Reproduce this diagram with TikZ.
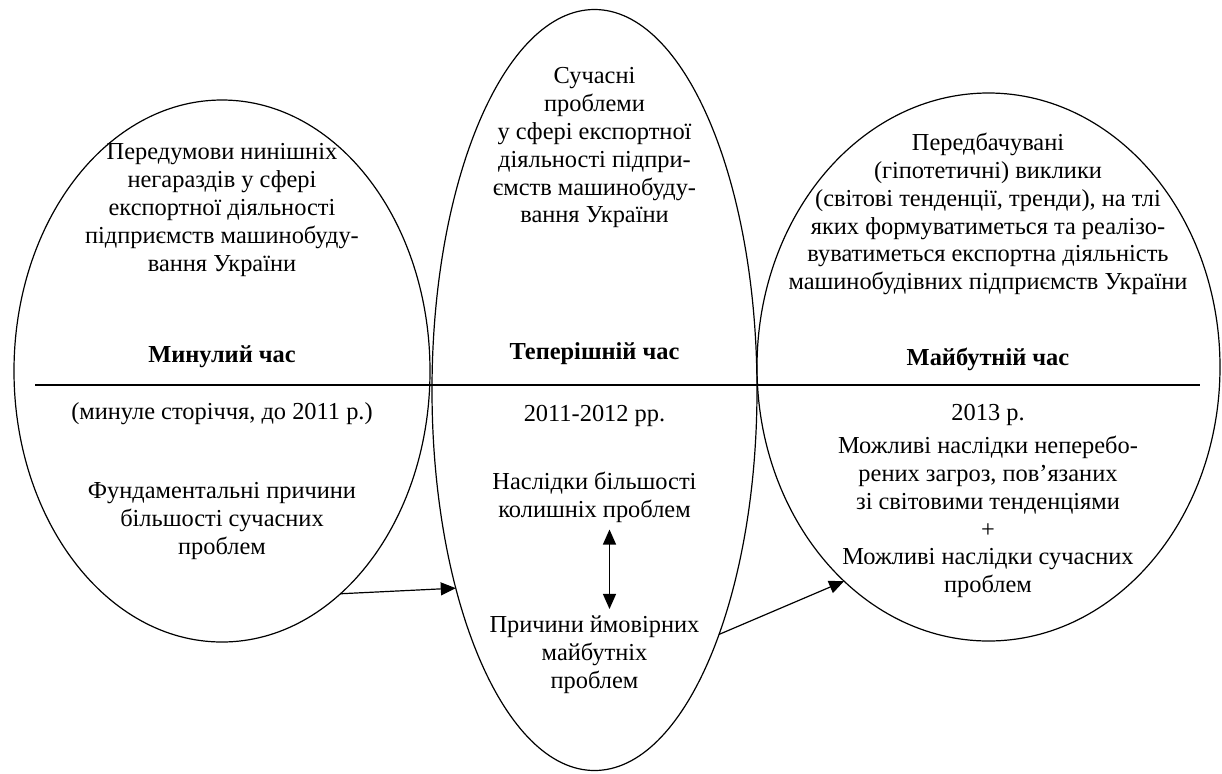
\documentclass[tikz,border=0pt]{standalone}
\usepackage{fontspec}
\setmainfont{Liberation Serif}
\usetikzlibrary{arrows.meta,shapes.geometric,positioning}

\begin{document}
\begin{tikzpicture}[x=0.5pt,y=-0.5pt,line width=0.6pt,
  >={Triangle[length=7.5pt,width=6.5pt]},
  period/.style={ellipse,draw,inner sep=0pt,outer sep=0pt},
  txt/.style={align=center,font=\fontsize{12.2}{13.9}\selectfont},
  tense/.style={txt,font=\fontsize{12.2}{13.9}\selectfont\bfseries}]
\useasboundingbox (0,0) rectangle (1222,773);
% the three periods
\node[period,minimum width=208pt,minimum height=271pt] (past) at (222,371) {};
\node[period,minimum width=162.5pt,minimum height=380.5pt] (present) at (594.5,390) {};
\node[period,minimum width=231.5pt,minimum height=274pt] (future) at (988.5,367) {};
% time axis
\coordinate (axisL) at (35,385);
\coordinate (axisR) at (1200,385);
\draw (axisL) -- (axisR);
% past
\node[txt] (pastpre) at (222,210) {Передумови нинішніх\\негараздів у сфері\\експортної діяльності\\підприємств машинобуду-\\вання України};
\node[tense] (pastname) at (222,357) {Минулий час};
\node[txt] (pastyears) at (222,414) {(минуле сторіччя, до 2011 р.)};
\node[txt] (pastcause) at (222,521) {Фундаментальні причини\\більшості сучасних\\проблем};
% present
\node[txt] (prespre) at (594.5,148) {Сучасні\\проблеми\\у сфері експортної\\діяльності підпри-\\ємств машинобуду-\\вання України};
\node[tense] (presname) at (594.5,354) {Теперішній час};
\node[txt] (presyears) at (594.5,416) {2011-2012 рр.};
\node[txt] (conseq) at (594.5,497) {Наслідки більшості\\колишніх проблем};
\node[txt] (causes) at (594.5,655) {Причини ймовірних\\майбутніх\\проблем};
% future
\node[txt] (futpre) at (988,214) {Передбачувані\\(гіпотетичні) виклики\\(світові тенденції, тренди), на тлі\\яких формуватиметься та реалізо-\\вуватиметься експортна діяльність\\машинобудівних підприємств України};
\node[tense] (futname) at (988,359) {Майбутній час};
\node[txt] (futyears) at (988,415) {2013 р.};
\node[txt] (futconseq) at (988,517) {Можливі наслідки неперебо-\\рених загроз, пов’язаних\\зі світовими тенденціями\\+\\Можливі наслідки сучасних\\проблем};
% links
\draw[->] (past.-62) -- (present.235.7);
\draw[->] (present.-63.1) -- (future.236.8);
\draw[<->] ([xshift=7.5pt]conseq.south) -- ([xshift=7.5pt]causes.north);
\end{tikzpicture}
\end{document}
